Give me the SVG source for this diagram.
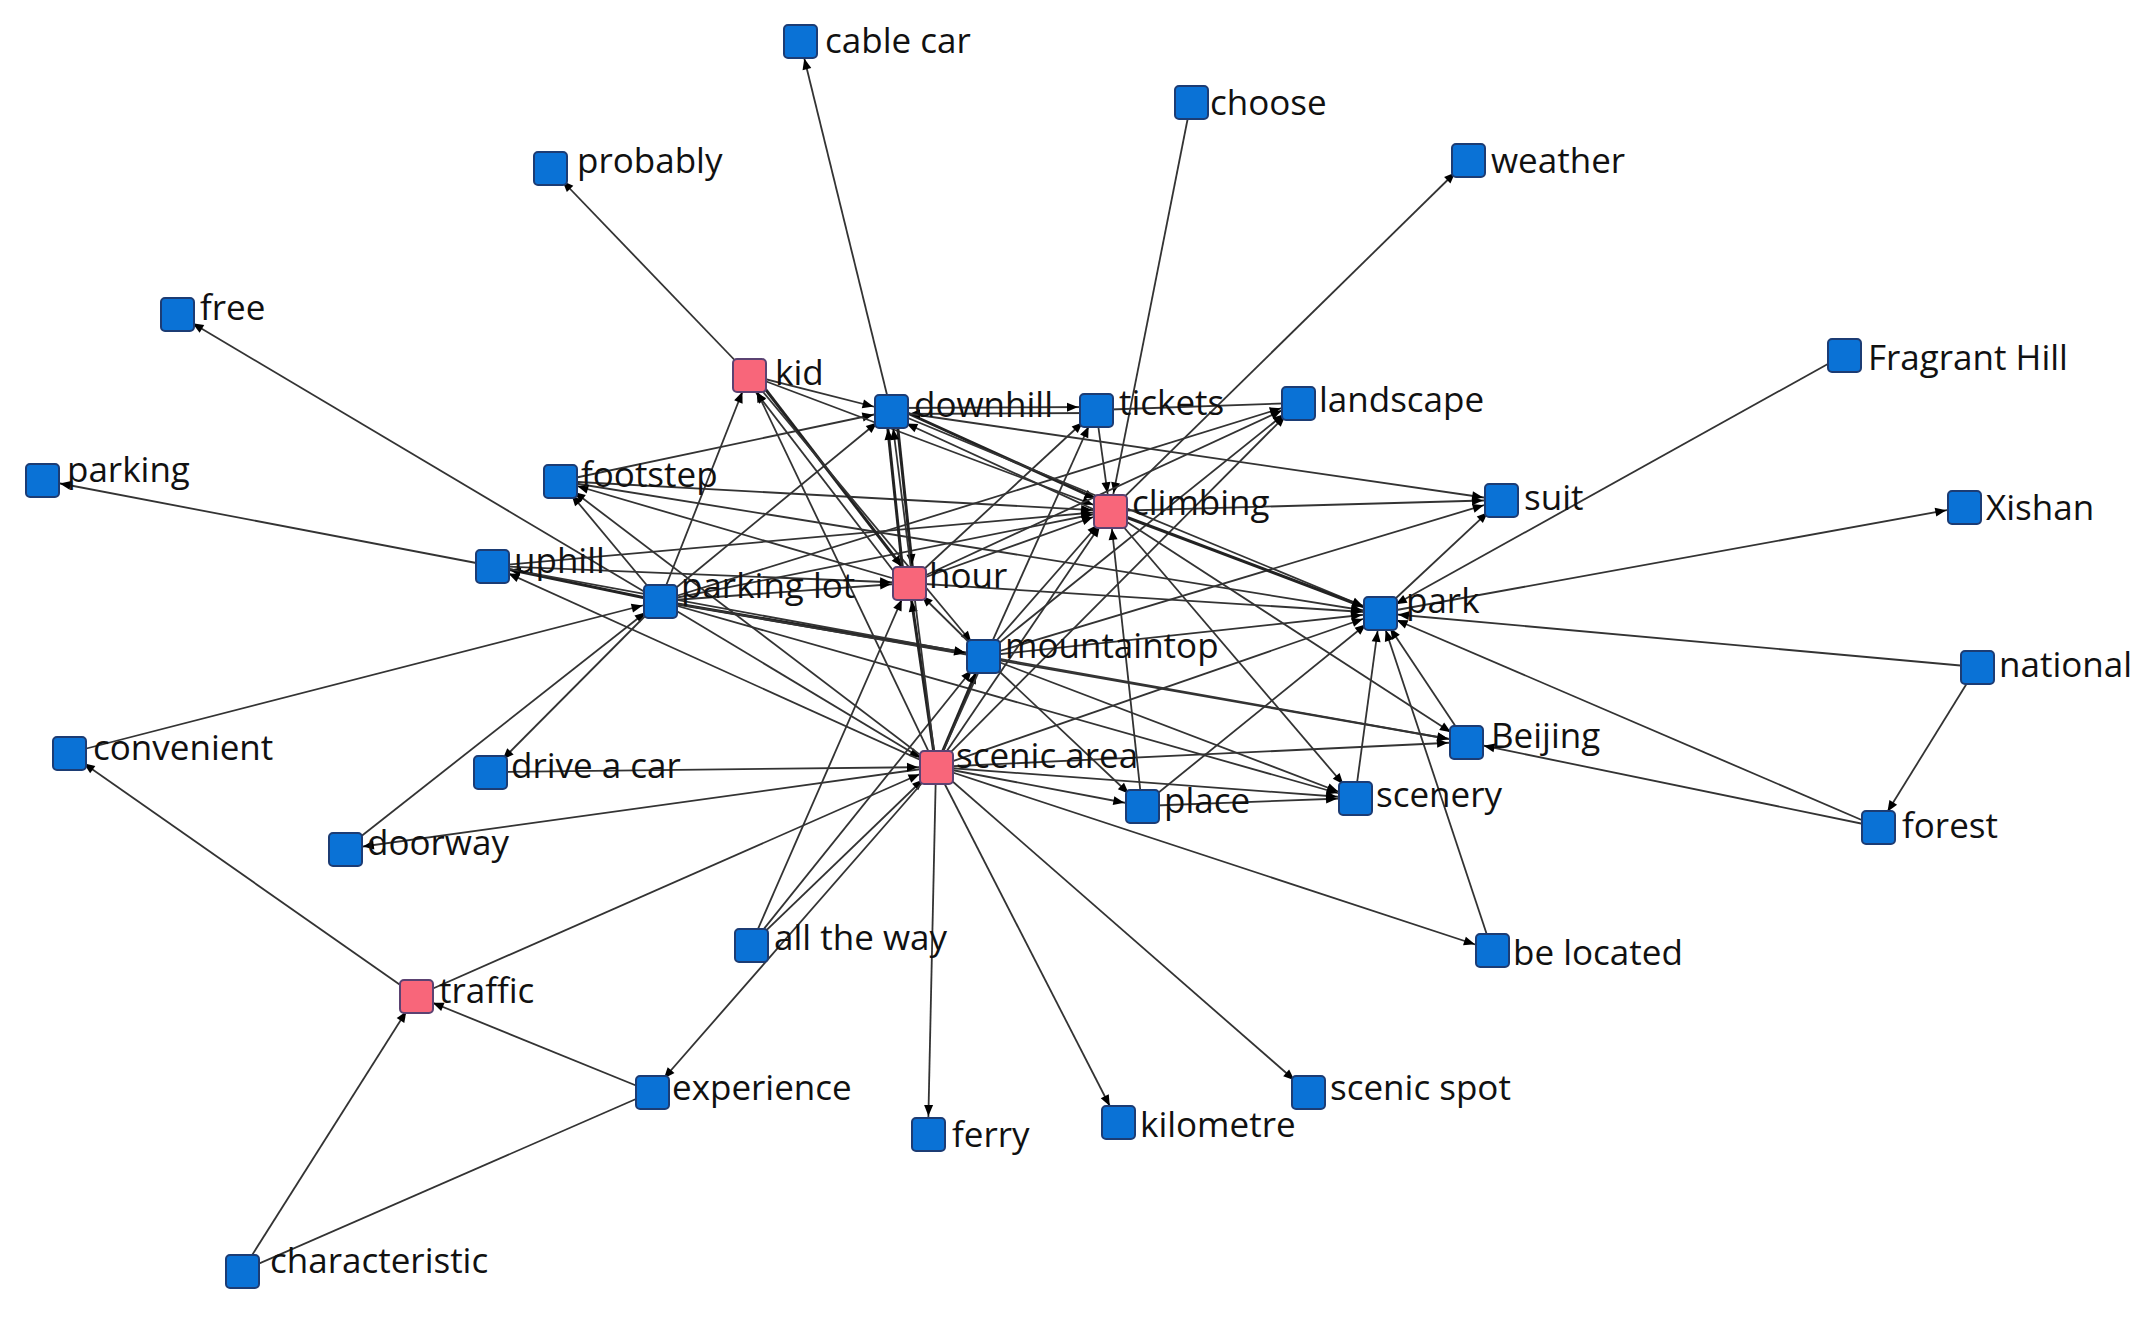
<svg xmlns="http://www.w3.org/2000/svg" width="2153" height="1317" viewBox="0 0 2153 1317">
<style>
.e{stroke:#333;stroke-width:1.8;fill:none}
.t{stroke:#222;stroke-width:3;fill:none}
.nb{fill:#0a72d6;stroke:#1c3c74;stroke-width:2}
.np{fill:#f8667a;stroke:#5b4272;stroke-width:2}
text{font-family:"Open Sans","Noto Sans","DejaVu Sans",sans-serif;font-size:35px;fill:#111}
</style>
<defs>
<marker id="a" markerUnits="userSpaceOnUse" markerWidth="30" markerHeight="12" viewBox="0 -6 30 12" refX="29" refY="0" orient="auto" overflow="visible">
<path d="M0,-4.5 L11,0 L0,4.5 Z" fill="#000"/>
</marker>
</defs>
<rect width="2153" height="1317" fill="#fff"/>
<g id="connectors">
<line class="e" x1="891" y1="411" x2="800" y2="41" marker-end="url(#a)"/>
<line class="e" x1="749" y1="375" x2="550" y2="168" marker-end="url(#a)"/>
<line class="e" x1="1191" y1="102" x2="1110" y2="511" marker-end="url(#a)"/>
<line class="e" x1="1110" y1="511" x2="1468" y2="160" marker-end="url(#a)"/>
<line class="e" x1="1844" y1="355" x2="1380" y2="613" marker-end="url(#a)"/>
<line class="e" x1="1380" y1="613" x2="1964" y2="507" marker-end="url(#a)"/>
<line class="e" x1="1977" y1="667" x2="1380" y2="613" marker-end="url(#a)"/>
<line class="e" x1="1977" y1="667" x2="1878" y2="827" marker-end="url(#a)"/>
<line class="e" x1="1878" y1="827" x2="1380" y2="613" marker-end="url(#a)"/>
<line class="e" x1="1878" y1="827" x2="1466" y2="742" marker-end="url(#a)"/>
<line class="e" x1="936" y1="767" x2="1492" y2="950" marker-end="url(#a)"/>
<line class="e" x1="1492" y1="950" x2="1380" y2="613" marker-end="url(#a)"/>
<line class="e" x1="936" y1="767" x2="1308" y2="1092" marker-end="url(#a)"/>
<line class="e" x1="936" y1="767" x2="1118" y2="1122" marker-end="url(#a)"/>
<line class="e" x1="936" y1="767" x2="928" y2="1134" marker-end="url(#a)"/>
<line class="e" x1="751" y1="945" x2="909" y2="583" marker-end="url(#a)"/>
<line class="e" x1="751" y1="945" x2="983" y2="656" marker-end="url(#a)"/>
<line class="e" x1="751" y1="945" x2="936" y2="767" marker-end="url(#a)"/>
<line class="e" x1="936" y1="767" x2="652" y2="1092" marker-end="url(#a)"/>
<line class="e" x1="652" y1="1092" x2="416" y2="996" marker-end="url(#a)"/>
<line class="e" x1="242" y1="1271" x2="416" y2="996" marker-end="url(#a)"/>
<line class="e" x1="242" y1="1271" x2="652" y2="1092"/>
<line class="e" x1="416" y1="996" x2="69" y2="753" marker-end="url(#a)"/>
<line class="e" x1="416" y1="996" x2="936" y2="767" marker-end="url(#a)"/>
<line class="e" x1="492" y1="566" x2="42" y2="480" marker-end="url(#a)"/>
<line class="e" x1="660" y1="601" x2="177" y2="314" marker-end="url(#a)"/>
<line class="e" x1="69" y1="753" x2="660" y2="601" marker-end="url(#a)"/>
<line class="e" x1="345" y1="849" x2="660" y2="601" marker-end="url(#a)"/>
<line class="e" x1="936" y1="767" x2="345" y2="849" marker-end="url(#a)"/>
<line class="e" x1="490" y1="772" x2="936" y2="767" marker-end="url(#a)"/>
<line class="e" x1="660" y1="601" x2="490" y2="772" marker-end="url(#a)"/>
<line class="t" x1="660" y1="601" x2="492" y2="566" marker-end="url(#a)"/>
<line class="e" x1="660" y1="601" x2="560" y2="481" marker-end="url(#a)"/>
<line class="e" x1="660" y1="601" x2="749" y2="375" marker-end="url(#a)"/>
<line class="e" x1="660" y1="601" x2="909" y2="583" marker-end="url(#a)"/>
<line class="t" x1="660" y1="601" x2="983" y2="656" marker-end="url(#a)"/>
<line class="e" x1="660" y1="601" x2="891" y2="411" marker-end="url(#a)"/>
<line class="e" x1="660" y1="601" x2="1110" y2="511" marker-end="url(#a)"/>
<line class="e" x1="660" y1="601" x2="936" y2="767" marker-end="url(#a)"/>
<line class="e" x1="660" y1="601" x2="1355" y2="798" marker-end="url(#a)"/>
<line class="e" x1="660" y1="601" x2="1466" y2="742" marker-end="url(#a)"/>
<line class="e" x1="660" y1="601" x2="1298" y2="403" marker-end="url(#a)"/>
<line class="e" x1="492" y1="566" x2="909" y2="583" marker-end="url(#a)"/>
<line class="e" x1="492" y1="566" x2="1110" y2="511" marker-end="url(#a)"/>
<line class="e" x1="492" y1="566" x2="983" y2="656" marker-end="url(#a)"/>
<line class="e" x1="560" y1="481" x2="1110" y2="511" marker-end="url(#a)"/>
<line class="e" x1="560" y1="481" x2="1380" y2="613" marker-end="url(#a)"/>
<line class="e" x1="560" y1="481" x2="891" y2="411" marker-end="url(#a)"/>
<line class="e" x1="909" y1="583" x2="560" y2="481" marker-end="url(#a)"/>
<line class="e" x1="936" y1="767" x2="560" y2="481" marker-end="url(#a)"/>
<line class="e" x1="749" y1="375" x2="891" y2="411" marker-end="url(#a)"/>
<line class="e" x1="749" y1="375" x2="1110" y2="511" marker-end="url(#a)"/>
<line class="t" x1="753" y1="373" x2="913" y2="581" marker-end="url(#a)"/>
<line class="e" x1="905" y1="586" x2="745" y2="378" marker-end="url(#a)"/>
<line class="e" x1="749" y1="375" x2="983" y2="656" marker-end="url(#a)"/>
<line class="e" x1="936" y1="767" x2="749" y2="375" marker-end="url(#a)"/>
<line class="t" x1="904" y1="583" x2="886" y2="411" marker-end="url(#a)"/>
<line class="t" x1="896" y1="411" x2="914" y2="583" marker-end="url(#a)"/>
<line class="t" x1="892" y1="406" x2="1112" y2="506" marker-end="url(#a)"/>
<line class="e" x1="1108" y1="516" x2="890" y2="416" marker-end="url(#a)"/>
<line class="e" x1="891" y1="408" x2="1096" y2="407" marker-end="url(#a)"/>
<line class="e" x1="1096" y1="413" x2="891" y2="414" marker-end="url(#a)"/>
<line class="e" x1="891" y1="411" x2="1380" y2="613" marker-end="url(#a)"/>
<line class="e" x1="891" y1="411" x2="1501" y2="500" marker-end="url(#a)"/>
<line class="e" x1="1096" y1="410" x2="1298" y2="403"/>
<line class="e" x1="1096" y1="410" x2="1110" y2="511" marker-end="url(#a)"/>
<line class="e" x1="909" y1="583" x2="1110" y2="511" marker-end="url(#a)"/>
<line class="e" x1="909" y1="583" x2="1096" y2="410" marker-end="url(#a)"/>
<line class="e" x1="909" y1="583" x2="1380" y2="613" marker-end="url(#a)"/>
<line class="e" x1="909" y1="583" x2="1298" y2="403" marker-end="url(#a)"/>
<line class="e" x1="983" y1="656" x2="909" y2="583" marker-end="url(#a)"/>
<line class="e" x1="983" y1="656" x2="1110" y2="511" marker-end="url(#a)"/>
<line class="e" x1="983" y1="656" x2="1298" y2="403" marker-end="url(#a)"/>
<line class="e" x1="983" y1="656" x2="1380" y2="613" marker-end="url(#a)"/>
<line class="e" x1="983" y1="656" x2="1466" y2="742" marker-end="url(#a)"/>
<line class="e" x1="983" y1="656" x2="1355" y2="798" marker-end="url(#a)"/>
<line class="e" x1="983" y1="656" x2="1142" y2="806" marker-end="url(#a)"/>
<line class="e" x1="983" y1="656" x2="1501" y2="500" marker-end="url(#a)"/>
<line class="t" x1="936" y1="767" x2="983" y2="656" marker-end="url(#a)"/>
<line class="t" x1="936" y1="767" x2="909" y2="583" marker-end="url(#a)"/>
<line class="e" x1="936" y1="767" x2="1110" y2="511" marker-end="url(#a)"/>
<line class="e" x1="936" y1="767" x2="1096" y2="410" marker-end="url(#a)"/>
<line class="e" x1="936" y1="767" x2="891" y2="411" marker-end="url(#a)"/>
<line class="e" x1="936" y1="767" x2="1298" y2="403" marker-end="url(#a)"/>
<line class="e" x1="936" y1="767" x2="1380" y2="613" marker-end="url(#a)"/>
<line class="e" x1="936" y1="767" x2="1466" y2="742" marker-end="url(#a)"/>
<line class="e" x1="936" y1="767" x2="1142" y2="806" marker-end="url(#a)"/>
<line class="e" x1="936" y1="767" x2="1355" y2="798" marker-end="url(#a)"/>
<line class="e" x1="936" y1="767" x2="492" y2="566" marker-end="url(#a)"/>
<line class="e" x1="1110" y1="511" x2="1501" y2="500" marker-end="url(#a)"/>
<line class="t" x1="1110" y1="511" x2="1380" y2="613" marker-end="url(#a)"/>
<line class="e" x1="1110" y1="511" x2="1466" y2="742" marker-end="url(#a)"/>
<line class="e" x1="1110" y1="511" x2="1355" y2="798" marker-end="url(#a)"/>
<line class="e" x1="1142" y1="806" x2="1110" y2="511" marker-end="url(#a)"/>
<line class="e" x1="1142" y1="806" x2="1355" y2="798" marker-end="url(#a)"/>
<line class="e" x1="1142" y1="806" x2="1380" y2="613" marker-end="url(#a)"/>
<line class="e" x1="1355" y1="798" x2="1380" y2="613" marker-end="url(#a)"/>
<line class="e" x1="1466" y1="742" x2="1380" y2="613" marker-end="url(#a)"/>
<line class="e" x1="1380" y1="613" x2="1501" y2="500" marker-end="url(#a)"/>
</g>
<g id="n-cablecar"><rect class="nb" x="784" y="25" width="33" height="33" rx="4"/><text x="825" y="53">cable car</text></g>
<g id="n-choose"><rect class="nb" x="1175" y="86" width="33" height="33" rx="4"/><text x="1210" y="115">choose</text></g>
<g id="n-probably"><rect class="nb" x="534" y="152" width="33" height="33" rx="4"/><text x="577" y="173">probably</text></g>
<g id="n-weather"><rect class="nb" x="1452" y="144" width="33" height="33" rx="4"/><text x="1491" y="173">weather</text></g>
<g id="n-free"><rect class="nb" x="161" y="298" width="33" height="33" rx="4"/><text x="200" y="320">free</text></g>
<g id="n-kid"><rect class="np" x="733" y="359" width="33" height="33" rx="4"/><text x="775" y="385">kid</text></g>
<g id="n-downhill"><rect class="nb" x="875" y="395" width="33" height="33" rx="4"/><text x="914" y="417">downhill</text></g>
<g id="n-tickets"><rect class="nb" x="1080" y="394" width="33" height="33" rx="4"/><text x="1119" y="415">tickets</text></g>
<g id="n-landscape"><rect class="nb" x="1282" y="387" width="33" height="33" rx="4"/><text x="1319" y="412">landscape</text></g>
<g id="n-fragranthill"><rect class="nb" x="1828" y="339" width="33" height="33" rx="4"/><text x="1868" y="370">Fragrant Hill</text></g>
<g id="n-parking"><rect class="nb" x="26" y="464" width="33" height="33" rx="4"/><text x="67" y="482">parking</text></g>
<g id="n-footstep"><rect class="nb" x="544" y="465" width="33" height="33" rx="4"/><text x="581" y="487">footstep</text></g>
<g id="n-climbing"><rect class="np" x="1094" y="495" width="33" height="33" rx="4"/><text x="1132" y="515">climbing</text></g>
<g id="n-suit"><rect class="nb" x="1485" y="484" width="33" height="33" rx="4"/><text x="1524" y="510">suit</text></g>
<g id="n-xishan"><rect class="nb" x="1948" y="491" width="33" height="33" rx="4"/><text x="1986" y="520">Xishan</text></g>
<g id="n-uphill"><rect class="nb" x="476" y="550" width="33" height="33" rx="4"/><text x="514" y="573">uphill</text></g>
<g id="n-parkinglot"><rect class="nb" x="644" y="585" width="33" height="33" rx="4"/><text x="681" y="598">parking lot</text></g>
<g id="n-hour"><rect class="np" x="893" y="567" width="33" height="33" rx="4"/><text x="929" y="588">hour</text></g>
<g id="n-park"><rect class="nb" x="1364" y="597" width="33" height="33" rx="4"/><text x="1406" y="613">park</text></g>
<g id="n-national"><rect class="nb" x="1961" y="651" width="33" height="33" rx="4"/><text x="1999" y="677">national</text></g>
<g id="n-mountaintop"><rect class="nb" x="967" y="640" width="33" height="33" rx="4"/><text x="1005" y="658">mountaintop</text></g>
<g id="n-convenient"><rect class="nb" x="53" y="737" width="33" height="33" rx="4"/><text x="93" y="760">convenient</text></g>
<g id="n-driveacar"><rect class="nb" x="474" y="756" width="33" height="33" rx="4"/><text x="511" y="778">drive a car</text></g>
<g id="n-scenicarea"><rect class="np" x="920" y="751" width="33" height="33" rx="4"/><text x="956" y="768">scenic area</text></g>
<g id="n-beijing"><rect class="nb" x="1450" y="726" width="33" height="33" rx="4"/><text x="1491" y="748">Beijing</text></g>
<g id="n-place"><rect class="nb" x="1126" y="790" width="33" height="33" rx="4"/><text x="1164" y="813">place</text></g>
<g id="n-scenery"><rect class="nb" x="1339" y="782" width="33" height="33" rx="4"/><text x="1376" y="807">scenery</text></g>
<g id="n-forest"><rect class="nb" x="1862" y="811" width="33" height="33" rx="4"/><text x="1902" y="838">forest</text></g>
<g id="n-doorway"><rect class="nb" x="329" y="833" width="33" height="33" rx="4"/><text x="367" y="855">doorway</text></g>
<g id="n-alltheway"><rect class="nb" x="735" y="929" width="33" height="33" rx="4"/><text x="774" y="950">all the way</text></g>
<g id="n-belocated"><rect class="nb" x="1476" y="934" width="33" height="33" rx="4"/><text x="1513" y="965">be located</text></g>
<g id="n-traffic"><rect class="np" x="400" y="980" width="33" height="33" rx="4"/><text x="439" y="1003">traffic</text></g>
<g id="n-experience"><rect class="nb" x="636" y="1076" width="33" height="33" rx="4"/><text x="672" y="1100">experience</text></g>
<g id="n-ferry"><rect class="nb" x="912" y="1118" width="33" height="33" rx="4"/><text x="952" y="1147">ferry</text></g>
<g id="n-kilometre"><rect class="nb" x="1102" y="1106" width="33" height="33" rx="4"/><text x="1140" y="1137">kilometre</text></g>
<g id="n-scenicspot"><rect class="nb" x="1292" y="1076" width="33" height="33" rx="4"/><text x="1330" y="1100">scenic spot</text></g>
<g id="n-characteristic"><rect class="nb" x="226" y="1255" width="33" height="33" rx="4"/><text x="270" y="1273">characteristic</text></g>
</svg>
